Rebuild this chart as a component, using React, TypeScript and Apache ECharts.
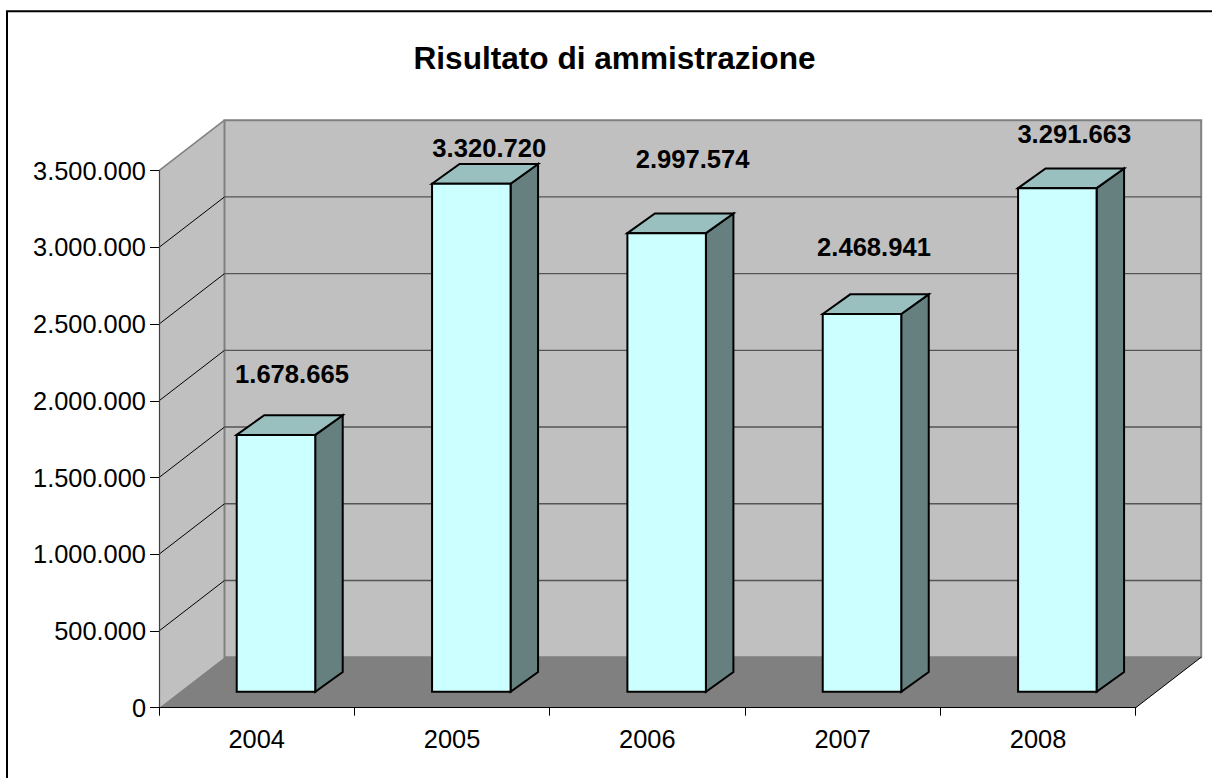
import React, { useEffect, useRef } from "react";
import * as echarts from "echarts";

const titleText = "Risultato di ammistrazione";
const categories = ["2004", "2005", "2006", "2007", "2008"];
const values = [1678665, 3320720, 2997574, 2468941, 3291663];
const yTicks = [0, 500000, 1000000, 1500000, 2000000, 2500000, 3000000, 3500000];

// Excel placed the value labels by hand: shift from the top of each bar (px)
const labelShift: [number, number][] = [
  [16, -60.5],
  [18, -36],
  [26, -74],
  [12, -67],
  [17, -54],
];

const FONT = '"Liberation Sans", Arial, sans-serif';
const WALL_DX = 65.5;
const WALL_DY = -50.5;
const BAR_DX = 27.5;
const BAR_DY = -19.7;
const BAR_SHIFT_X = 19.3;
const BAR_SHIFT_Y = -16;
const BAR_WIDTH = 78.5;
const BAR_DEPTH_SCALE = 0.997;

const fmt = (v: number) => String(v).replace(/\B(?=(\d{3})+$)/g, ".");

function poly(points: number[][], fill: string, stroke: string, lineWidth: number) {
  return {
    type: "polygon",
    shape: { points },
    style: { fill, stroke, lineWidth, lineJoin: "miter" },
  };
}

function renderWalls(params: any, api: any) {
  const { x, y, width, height } = params.coordSys;
  const r = x + width;
  const b = y + height;
  const children: any[] = [
    poly([[x, y], [x + WALL_DX, y + WALL_DY], [x + WALL_DX, b + WALL_DY], [x, b]], "#c0c0c0", "#c0c0c0", 0),
    poly([[x + WALL_DX, y + WALL_DY], [r + WALL_DX, y + WALL_DY], [r + WALL_DX, b + WALL_DY], [x + WALL_DX, b + WALL_DY]], "#c0c0c0", "#808080", 2),
  ];
  yTicks.slice(1, -1).forEach((t) => {
    const py = api.coord([0, t])[1];
    children.push({
      type: "line",
      shape: { x1: x, y1: py, x2: x + WALL_DX, y2: py + WALL_DY },
      style: { stroke: "#000000", lineWidth: 1 },
    });
    children.push({
      type: "line",
      shape: { x1: x + WALL_DX, y1: py + WALL_DY, x2: r + WALL_DX, y2: py + WALL_DY },
      style: { stroke: "#555555", lineWidth: 1.4 },
    });
  });
  children.push({
    type: "line",
    shape: { x1: x, y1: y, x2: x + WALL_DX, y2: y + WALL_DY },
    style: { stroke: "#808080", lineWidth: 1.5 },
  });
  children.push(poly([[x, b], [r, b], [r + WALL_DX, b + WALL_DY], [x + WALL_DX, b + WALL_DY]], "#808080", "#808080", 0));
  children.push({
    type: "line",
    shape: { x1: r, y1: b, x2: r + WALL_DX, y2: b + WALL_DY },
    style: { stroke: "#000000", lineWidth: 1 },
  });
  return { type: "group", children };
}

function renderBar(_params: any, api: any) {
  const idx = api.value(0);
  const val = api.value(1);
  const base = api.coord([idx, 0]);
  const top = api.coord([idx, val]);
  const l = base[0] + BAR_SHIFT_X - BAR_WIDTH / 2;
  const r = l + BAR_WIDTH;
  const b = base[1] + BAR_SHIFT_Y;
  const t = b - (base[1] - top[1]) * BAR_DEPTH_SCALE;
  const [sx, sy] = labelShift[idx];
  return {
    type: "group",
    children: [
      poly([[r, t], [r + BAR_DX, t + BAR_DY], [r + BAR_DX, b + BAR_DY], [r, b]], "#668080", "#000000", 2),
      poly([[l, t], [l + BAR_DX, t + BAR_DY], [r + BAR_DX, t + BAR_DY], [r, t]], "#99bfbf", "#000000", 2),
      poly([[l, t], [r, t], [r, b], [l, b]], "#ccffff", "#000000", 2),
      {
        type: "text",
        style: {
          x: (l + r) / 2 + sx,
          y: t + sy,
          text: fmt(val),
          fill: "#000000",
          font: `bold 25.6px ${FONT}`,
          align: "center",
          verticalAlign: "middle",
        },
      },
    ],
  };
}

export default function App() {
  const ref = useRef<HTMLDivElement>(null);
  useEffect(() => {
    const chart = echarts.init(ref.current!, undefined, { renderer: "svg" });
    chart.setOption({
      animation: false,
      backgroundColor: "#ffffff",
      title: {
        text: titleText,
        left: 609.5,
        top: 53,
        textAlign: "center",
        textVerticalAlign: "middle",
        textStyle: { fontFamily: FONT, fontSize: 31.6, fontWeight: "bold", color: "#000000" },
      },
      grid: { left: 159, top: 170.7, width: 976.7, height: 537 },
      xAxis: {
        type: "category",
        data: categories,
        boundaryGap: true,
        axisLine: { show: true, lineStyle: { color: "#000000", width: 1.2 } },
        axisTick: { show: true, alignWithLabel: false, length: 8, lineStyle: { color: "#000000", width: 1 } },
        axisLabel: { color: "#000000", fontFamily: FONT, fontSize: 25.4, margin: 19 },
        splitLine: { show: false },
        z: 10,
      },
      yAxis: {
        type: "value",
        min: 0,
        max: 3500000,
        interval: 500000,
        axisLine: { show: true, lineStyle: { color: "#404040", width: 1.2 } },
        axisTick: { show: true, length: 9, lineStyle: { color: "#000000", width: 1 } },
        axisLabel: {
          color: "#000000",
          fontFamily: FONT,
          fontSize: 25.4,
          margin: 13,
          padding: [6, 0, 0, 0],
          formatter: (v: number) => fmt(v),
        },
        splitLine: { show: false },
        z: 10,
      },
      series: [
        {
          type: "custom",
          name: "walls",
          coordinateSystem: "cartesian2d",
          renderItem: renderWalls,
          data: [[0, 0]],
          clip: false,
          silent: true,
          z: 1,
        },
        {
          type: "custom",
          name: "Risultato",
          coordinateSystem: "cartesian2d",
          renderItem: renderBar,
          data: values.map((v, i) => [i, v]),
          encode: { x: 0, y: 1 },
          clip: false,
          silent: true,
          z: 20,
        },
      ],
      graphic: [
        {
          type: "polyline",
          z: 100,
          silent: true,
          shape: { points: [[7, 778], [7, 11.2], [1212, 11.2]] },
          style: { fill: "none", stroke: "#000000", lineWidth: 2 },
        },
      ],
    });
    return () => chart.dispose();
  }, []);
  return <div ref={ref} style={{ position: "fixed", left: 0, top: 0, width: 1212, height: 778 }} />;
}
